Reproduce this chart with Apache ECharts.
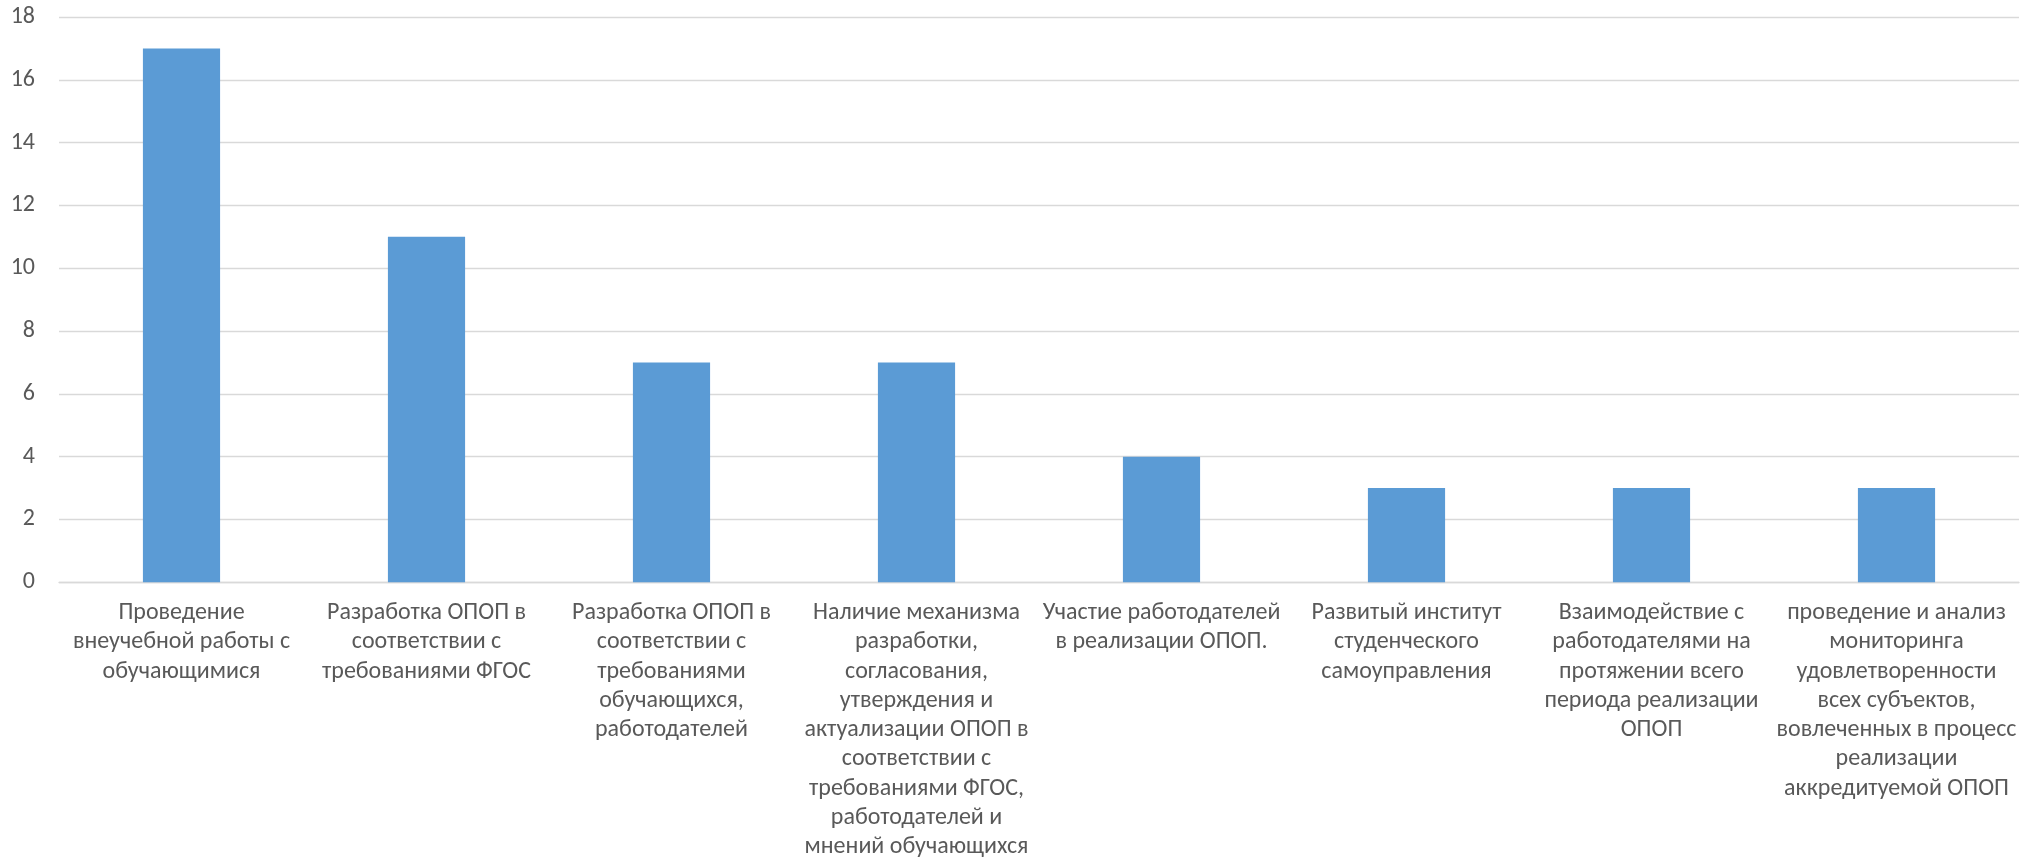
<!DOCTYPE html>
<html>
<head>
<meta charset="utf-8">
<script src="https://cdn.jsdelivr.net/npm/echarts@6/dist/echarts.min.js"></script>
<style>
html,body{margin:0;padding:0;background:#fff;}
#chart{width:2022px;height:862px;}
</style>
</head>
<body>
<div id="chart"></div>
<script>
const categories = [
  "Проведение\nвнеучебной работы с\nобучающимися",
  "Разработка ОПОП в\nсоответствии с\nтребованиями ФГОС",
  "Разработка ОПОП в\nсоответствии с\nтребованиями\nобучающихся,\nработодателей",
  "Наличие механизма\nразработки,\nсогласования,\nутверждения и\nактуализации ОПОП в\nсоответствии с\nтребованиями ФГОС,\nработодателей и\nмнений обучающихся",
  "Участие работодателей\nв реализации ОПОП.",
  "Развитый институт\nстуденческого\nсамоуправления",
  "Взаимодействие с\nработодателями на\nпротяжении всего\nпериода реализации\nОПОП",
  "проведение и анализ\nмониторинга\nудовлетворенности\nвсех субъектов,\nвовлеченных в процесс\nреализации\nаккредитуемой ОПОП"
];
const values = [17, 11, 7, 7, 4, 3, 3, 3];
const yTicks = {min: 0, max: 18, interval: 2};

const font = "Carlito, Calibri, 'Liberation Sans', sans-serif";
const chart = echarts.init(document.getElementById('chart'), null, {renderer: 'canvas'});
chart.setOption({
  animation: false,
  backgroundColor: '#ffffff',
  grid: {left: 59, right: 3, top: 17, bottom: 278, containLabel: false},
  xAxis: {
    type: 'category',
    data: categories,
    axisLine: {show: true, lineStyle: {color: '#d9d9d9', width: 1.3}},
    axisTick: {show: false},
    axisLabel: {
      interval: 0,
      margin: 16,
      color: '#595959',
      fontFamily: font,
      fontSize: 24,
      lineHeight: 29.3,
      align: 'center',
      verticalAlign: 'top'
    }
  },
  yAxis: {
    type: 'value',
    min: yTicks.min,
    max: yTicks.max,
    interval: yTicks.interval,
    axisLine: {show: false},
    axisTick: {show: false},
    splitLine: {lineStyle: {color: '#d9d9d9', width: 1.3}},
    axisLabel: {color: '#595959', fontFamily: font, fontSize: 24, margin: 24}
  },
  series: [{
    type: 'bar',
    data: values,
    barWidth: '31.5%',
    itemStyle: {color: '#5b9bd5'}
  }]
});
</script>
</body>
</html>
